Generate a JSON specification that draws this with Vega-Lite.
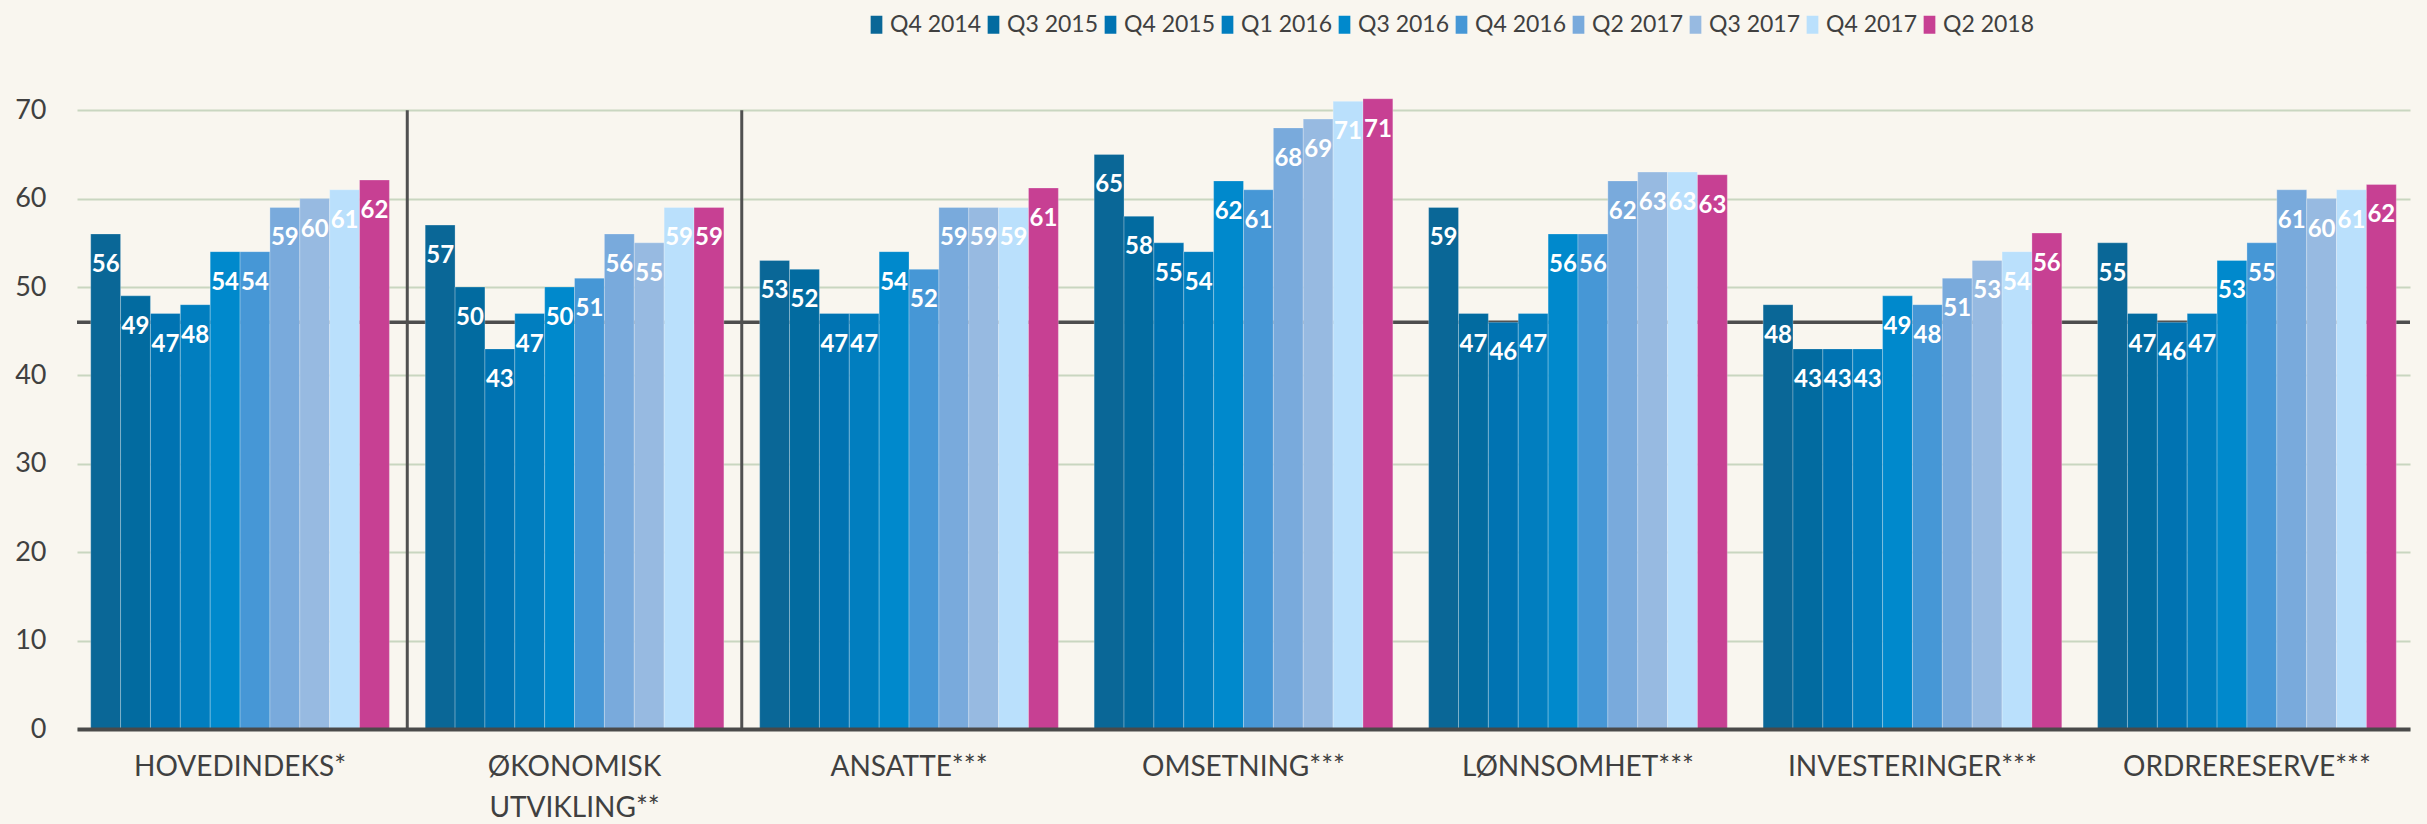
{
  "$schema": "https://vega.github.io/schema/vega-lite/v6.json",
  "width": 2333,
  "height": 663,
  "autosize": {"type": "none"},
  "padding": {"left": 77, "top": 66, "right": 17, "bottom": 95},
  "background": "#F9F6EF",
  "config": {"view": {"stroke": null}, "font": "Lato"},
  "datasets": {
    "bars": [
      {"kategori": "HOVEDINDEKS*", "periode": "Q4 2014", "verdi": 56},
      {"kategori": "HOVEDINDEKS*", "periode": "Q3 2015", "verdi": 49},
      {"kategori": "HOVEDINDEKS*", "periode": "Q4 2015", "verdi": 47},
      {"kategori": "HOVEDINDEKS*", "periode": "Q1 2016", "verdi": 48},
      {"kategori": "HOVEDINDEKS*", "periode": "Q3 2016", "verdi": 54},
      {"kategori": "HOVEDINDEKS*", "periode": "Q4 2016", "verdi": 54},
      {"kategori": "HOVEDINDEKS*", "periode": "Q2 2017", "verdi": 59},
      {"kategori": "HOVEDINDEKS*", "periode": "Q3 2017", "verdi": 60},
      {"kategori": "HOVEDINDEKS*", "periode": "Q4 2017", "verdi": 61},
      {"kategori": "HOVEDINDEKS*", "periode": "Q2 2018", "verdi": 62.1},
      {"kategori": "ØKONOMISK UTVIKLING**", "periode": "Q4 2014", "verdi": 57},
      {"kategori": "ØKONOMISK UTVIKLING**", "periode": "Q3 2015", "verdi": 50},
      {"kategori": "ØKONOMISK UTVIKLING**", "periode": "Q4 2015", "verdi": 43},
      {"kategori": "ØKONOMISK UTVIKLING**", "periode": "Q1 2016", "verdi": 47},
      {"kategori": "ØKONOMISK UTVIKLING**", "periode": "Q3 2016", "verdi": 50},
      {"kategori": "ØKONOMISK UTVIKLING**", "periode": "Q4 2016", "verdi": 51},
      {"kategori": "ØKONOMISK UTVIKLING**", "periode": "Q2 2017", "verdi": 56},
      {"kategori": "ØKONOMISK UTVIKLING**", "periode": "Q3 2017", "verdi": 55},
      {"kategori": "ØKONOMISK UTVIKLING**", "periode": "Q4 2017", "verdi": 59},
      {"kategori": "ØKONOMISK UTVIKLING**", "periode": "Q2 2018", "verdi": 59},
      {"kategori": "ANSATTE***", "periode": "Q4 2014", "verdi": 53},
      {"kategori": "ANSATTE***", "periode": "Q3 2015", "verdi": 52},
      {"kategori": "ANSATTE***", "periode": "Q4 2015", "verdi": 47},
      {"kategori": "ANSATTE***", "periode": "Q1 2016", "verdi": 47},
      {"kategori": "ANSATTE***", "periode": "Q3 2016", "verdi": 54},
      {"kategori": "ANSATTE***", "periode": "Q4 2016", "verdi": 52},
      {"kategori": "ANSATTE***", "periode": "Q2 2017", "verdi": 59},
      {"kategori": "ANSATTE***", "periode": "Q3 2017", "verdi": 59},
      {"kategori": "ANSATTE***", "periode": "Q4 2017", "verdi": 59},
      {"kategori": "ANSATTE***", "periode": "Q2 2018", "verdi": 61.2},
      {"kategori": "OMSETNING***", "periode": "Q4 2014", "verdi": 65},
      {"kategori": "OMSETNING***", "periode": "Q3 2015", "verdi": 58},
      {"kategori": "OMSETNING***", "periode": "Q4 2015", "verdi": 55},
      {"kategori": "OMSETNING***", "periode": "Q1 2016", "verdi": 54},
      {"kategori": "OMSETNING***", "periode": "Q3 2016", "verdi": 62},
      {"kategori": "OMSETNING***", "periode": "Q4 2016", "verdi": 61},
      {"kategori": "OMSETNING***", "periode": "Q2 2017", "verdi": 68},
      {"kategori": "OMSETNING***", "periode": "Q3 2017", "verdi": 69},
      {"kategori": "OMSETNING***", "periode": "Q4 2017", "verdi": 71},
      {"kategori": "OMSETNING***", "periode": "Q2 2018", "verdi": 71.3},
      {"kategori": "LØNNSOMHET***", "periode": "Q4 2014", "verdi": 59},
      {"kategori": "LØNNSOMHET***", "periode": "Q3 2015", "verdi": 47},
      {"kategori": "LØNNSOMHET***", "periode": "Q4 2015", "verdi": 46},
      {"kategori": "LØNNSOMHET***", "periode": "Q1 2016", "verdi": 47},
      {"kategori": "LØNNSOMHET***", "periode": "Q3 2016", "verdi": 56},
      {"kategori": "LØNNSOMHET***", "periode": "Q4 2016", "verdi": 56},
      {"kategori": "LØNNSOMHET***", "periode": "Q2 2017", "verdi": 62},
      {"kategori": "LØNNSOMHET***", "periode": "Q3 2017", "verdi": 63},
      {"kategori": "LØNNSOMHET***", "periode": "Q4 2017", "verdi": 63},
      {"kategori": "LØNNSOMHET***", "periode": "Q2 2018", "verdi": 62.7},
      {"kategori": "INVESTERINGER***", "periode": "Q4 2014", "verdi": 48},
      {"kategori": "INVESTERINGER***", "periode": "Q3 2015", "verdi": 43},
      {"kategori": "INVESTERINGER***", "periode": "Q4 2015", "verdi": 43},
      {"kategori": "INVESTERINGER***", "periode": "Q1 2016", "verdi": 43},
      {"kategori": "INVESTERINGER***", "periode": "Q3 2016", "verdi": 49},
      {"kategori": "INVESTERINGER***", "periode": "Q4 2016", "verdi": 48},
      {"kategori": "INVESTERINGER***", "periode": "Q2 2017", "verdi": 51},
      {"kategori": "INVESTERINGER***", "periode": "Q3 2017", "verdi": 53},
      {"kategori": "INVESTERINGER***", "periode": "Q4 2017", "verdi": 54},
      {"kategori": "INVESTERINGER***", "periode": "Q2 2018", "verdi": 56.1},
      {"kategori": "ORDRERESERVE***", "periode": "Q4 2014", "verdi": 55},
      {"kategori": "ORDRERESERVE***", "periode": "Q3 2015", "verdi": 47},
      {"kategori": "ORDRERESERVE***", "periode": "Q4 2015", "verdi": 46},
      {"kategori": "ORDRERESERVE***", "periode": "Q1 2016", "verdi": 47},
      {"kategori": "ORDRERESERVE***", "periode": "Q3 2016", "verdi": 53},
      {"kategori": "ORDRERESERVE***", "periode": "Q4 2016", "verdi": 55},
      {"kategori": "ORDRERESERVE***", "periode": "Q2 2017", "verdi": 61},
      {"kategori": "ORDRERESERVE***", "periode": "Q3 2017", "verdi": 60},
      {"kategori": "ORDRERESERVE***", "periode": "Q4 2017", "verdi": 61},
      {"kategori": "ORDRERESERVE***", "periode": "Q2 2018", "verdi": 61.6}
    ],
    "seps": [
      {"kategori": "ØKONOMISK UTVIKLING**"},
      {"kategori": "ANSATTE***"}
    ],
    "ref": [{"nivaa": 46}]
  },
  "layer": [
    {
      "data": {"name": "ref"},
      "mark": {"type": "rule", "color": "#4D4D4D", "strokeWidth": 3.5},
      "encoding": {
        "y": {"field": "nivaa", "type": "quantitative"}
      }
    },
    {
      "data": {"name": "bars"},
      "mark": {"type": "bar", "stroke": "#FFFFFF", "strokeOpacity": 0.25, "strokeWidth": 1},
      "encoding": {
        "x": {
          "field": "kategori", "type": "nominal",
          "sort": ["HOVEDINDEKS*", "ØKONOMISK UTVIKLING**", "ANSATTE***", "OMSETNING***", "LØNNSOMHET***", "INVESTERINGER***", "ORDRERESERVE***"],
          "scale": {
            "domain": ["HOVEDINDEKS*", "ØKONOMISK UTVIKLING**", "ANSATTE***", "OMSETNING***", "LØNNSOMHET***", "INVESTERINGER***", "ORDRERESERVE***"],
            "paddingInner": 0.107, "paddingOuter": 0.041
          },
          "axis": {
            "title": null, "labelAngle": 0, "ticks": false,
            "domainColor": "#4A4A4A", "domainWidth": 4, "zindex": 1,
            "labelFontSize": 28, "labelColor": "#404040", "labelPadding": 24,
            "labelLineHeight": 41, "labelLimit": 400,
            "labelExpr": "datum.value == 'ØKONOMISK UTVIKLING**' ? ['ØKONOMISK', 'UTVIKLING**'] : datum.value"
          }
        },
        "xOffset": {
          "field": "periode", "type": "nominal",
          "sort": ["Q4 2014", "Q3 2015", "Q4 2015", "Q1 2016", "Q3 2016", "Q4 2016", "Q2 2017", "Q3 2017", "Q4 2017", "Q2 2018"]
        },
        "y": {
          "field": "verdi", "type": "quantitative",
          "scale": {"domain": [0, 75], "nice": false},
          "axis": {
            "title": null, "values": [0, 10, 20, 30, 40, 50, 60, 70],
            "domain": false, "ticks": false,
            "grid": true, "gridColor": "#C9D6C0", "gridWidth": 2,
            "labelFontSize": 27, "labelColor": "#404040", "labelPadding": 31
          }
        },
        "color": {
          "field": "periode", "type": "nominal",
          "sort": ["Q4 2014", "Q3 2015", "Q4 2015", "Q1 2016", "Q3 2016", "Q4 2016", "Q2 2017", "Q3 2017", "Q4 2017", "Q2 2018"],
          "scale": {
            "domain": ["Q4 2014", "Q3 2015", "Q4 2015", "Q1 2016", "Q3 2016", "Q4 2016", "Q2 2017", "Q3 2017", "Q4 2017", "Q2 2018"],
            "range": ["#0A6797", "#026BA0", "#0073B2", "#017EBF", "#0089CC", "#4697D6", "#79AADC", "#97BAE1", "#BAE0FC", "#C74093"]
          },
          "legend": {
            "title": null, "orient": "none", "direction": "horizontal",
            "legendX": 788, "legendY": -53,
            "symbolType": "M-0.65,-1H0.65V1H-0.65Z", "symbolSize": 324,
            "symbolStrokeWidth": 0, "symbolOpacity": 1,
            "labelFontSize": 23, "labelColor": "#404040", "labelOffset": 2,
            "columnPadding": 1
          }
        }
      }
    },
    {
      "data": {"name": "bars"},
      "mark": {"type": "text", "color": "#FFFFFF", "fontWeight": "bold", "fontSize": 24, "baseline": "alphabetic", "dy": 38},
      "encoding": {
        "x": {"field": "kategori", "type": "nominal", "sort": ["HOVEDINDEKS*", "ØKONOMISK UTVIKLING**", "ANSATTE***", "OMSETNING***", "LØNNSOMHET***", "INVESTERINGER***", "ORDRERESERVE***"]},
        "xOffset": {
          "field": "periode", "type": "nominal",
          "sort": ["Q4 2014", "Q3 2015", "Q4 2015", "Q1 2016", "Q3 2016", "Q4 2016", "Q2 2017", "Q3 2017", "Q4 2017", "Q2 2018"]
        },
        "y": {"field": "verdi", "type": "quantitative"},
        "text": {"field": "verdi", "type": "quantitative", "format": ".0f"}
      }
    },
    {
      "data": {"name": "seps"},
      "mark": {"type": "rule", "color": "#505050", "strokeWidth": 3},
      "encoding": {
        "x": {"field": "kategori", "type": "nominal", "bandPosition": -0.06, "sort": ["HOVEDINDEKS*", "ØKONOMISK UTVIKLING**", "ANSATTE***", "OMSETNING***", "LØNNSOMHET***", "INVESTERINGER***", "ORDRERESERVE***"]},
        "y": {"datum": 70, "type": "quantitative"},
        "y2": {"datum": 0}
      }
    }
  ]
}
